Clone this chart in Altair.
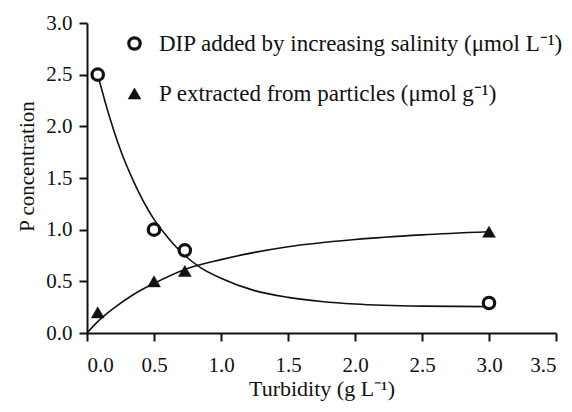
import altair as alt
import pandas as pd

FONT = "Liberation Serif"
INK = "#111111"

series_names = [
    "DIP added by increasing salinity (μmol L⁻¹)",
    "P extracted from particles (μmol g⁻¹)",
]

# measured points
dip_x = [0.08, 0.5, 0.73, 3.0]
dip_y = [2.5, 1.0, 0.8, 0.29]
p_x = [0.08, 0.5, 0.73, 3.0]
p_y = [0.2, 0.5, 0.6, 0.98]

# fitted curves
dip_curve_x = [0.08, 0.15, 0.25, 0.35, 0.5, 0.6, 0.73, 0.85, 1.0, 1.25, 1.5, 1.75, 2.0, 2.5, 3.0]
dip_curve_y = [2.50, 2.17, 1.77, 1.46, 1.10, 0.93, 0.75, 0.63, 0.53, 0.41, 0.345, 0.305, 0.28, 0.26, 0.255]
p_curve_x = [0.0, 0.08, 0.2, 0.35, 0.5, 0.73, 1.0, 1.25, 1.5, 2.0, 2.5, 3.0]
p_curve_y = [0.0, 0.11, 0.24, 0.375, 0.48, 0.615, 0.71, 0.78, 0.835, 0.905, 0.95, 0.98]

x_ticks = [0.0, 0.5, 1.0, 1.5, 2.0, 2.5, 3.0, 3.5]
y_ticks = [0.0, 0.5, 1.0, 1.5, 2.0, 2.5, 3.0]

pts = pd.DataFrame({
    "x": dip_x + p_x,
    "y": dip_y + p_y,
    "series": [series_names[0]] * len(dip_x) + [series_names[1]] * len(p_x),
})
curves = pd.DataFrame({
    "x": dip_curve_x + p_curve_x,
    "y": dip_curve_y + p_curve_y,
    "series": [series_names[0]] * len(dip_curve_x) + [series_names[1]] * len(p_curve_x),
})

xs = alt.Scale(domain=[0, 3.5], nice=False, zero=False)
ys = alt.Scale(domain=[0, 3.0], nice=False, zero=False)

x_axis = alt.Axis(
    title="Turbidity (g L⁻¹)", values=x_ticks, format=".1f", grid=False,
    tickSize=8, tickWidth=2, domainWidth=2, labelPadding=13, titlePadding=3,
    titleFontSize=22,
)
y_axis = alt.Axis(
    title="P concentration", values=y_ticks, format=".1f", grid=False,
    tickSize=8, tickWidth=2, domainWidth=2, labelPadding=7,
    titleAngle=-90, titleAlign="center", titleBaseline="alphabetic",
    titleX=-54, titleY=143,
)

lines = alt.Chart(curves).mark_line(
    interpolate="monotone", color=INK, strokeWidth=1.6
).encode(
    x=alt.X("x:Q", scale=xs, axis=x_axis),
    y=alt.Y("y:Q", scale=ys, axis=y_axis),
    detail="series:N",
    order="x:Q",
)

points = alt.Chart(pts).mark_point(
    opacity=1, filled=True
).encode(
    x=alt.X("x:Q", scale=xs, axis=x_axis),
    y=alt.Y("y:Q", scale=ys, axis=y_axis),
    shape=alt.Shape(
        "series:N",
        scale=alt.Scale(domain=series_names, range=["circle", "triangle-up"]),
        legend=alt.Legend(
            title=None, orient="none", legendX=36, legendY=9,
            rowPadding=26, labelOffset=13,
            labelFont=FONT, labelFontSize=23, labelColor=INK,
            labelLimit=600,
        ),
    ),
    fill=alt.Fill(
        "series:N",
        scale=alt.Scale(domain=series_names, range=["white", INK]),
    ),
    stroke=alt.Stroke(
        "series:N",
        scale=alt.Scale(domain=series_names, range=[INK, INK]),
    ),
    strokeWidth=alt.StrokeWidth(
        "series:N",
        scale=alt.Scale(domain=series_names, range=[3.2, 0.5]),
    ),
    size=alt.Size(
        "series:N",
        scale=alt.Scale(domain=series_names, range=[130, 165]),
    ),
)

chart = alt.layer(lines, points).properties(
    width=469,
    height=310,
    autosize=alt.AutoSizeParams(type="none"),
    padding={"left": 79, "top": 15, "right": 8, "bottom": 71},
).configure_view(stroke=None).configure_axis(
    labelFont=FONT, labelFontSize=21, labelColor=INK,
    titleFont=FONT, titleFontSize=21, titleFontWeight="normal", titleColor=INK,
    domainColor=INK, tickColor=INK,
).configure_legend(padding=0)

chart.save("out.html", embed_options={"renderer": "svg", "actions": False})
